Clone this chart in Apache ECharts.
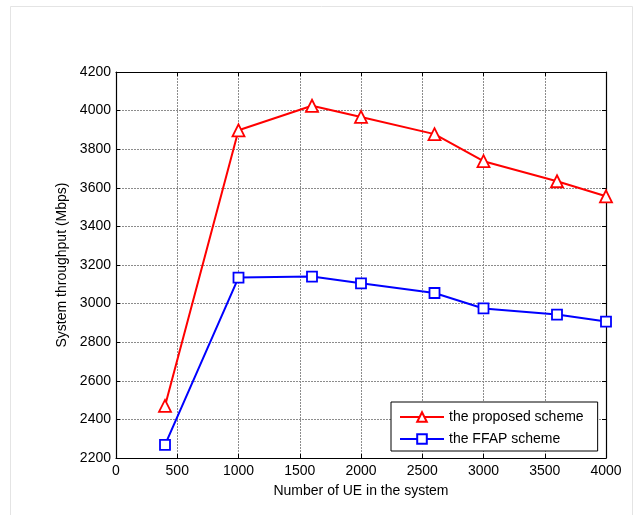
<!DOCTYPE html>
<html><head><meta charset="utf-8">
<script src="https://cdn.jsdelivr.net/npm/echarts@6/dist/echarts.min.js"></script>
<style>html,body{margin:0;padding:0;background:#fff}#c{width:639px;height:515px}</style>
</head><body><div id="c"></div>
<script>
const xValues = [400, 1000, 1600, 2000, 2600, 3000, 3600, 4000];
const proposed = [2470, 3898, 4025, 3967, 3878, 3738, 3634, 3556];
const ffap = [2268, 3135, 3140, 3105, 3055, 2975, 2943, 2907];
const seriesNames = ['the proposed scheme', 'the FFAP scheme'];
const xTicks = [0, 500, 1000, 1500, 2000, 2500, 3000, 3500, 4000];
const yTicks = [2200, 2400, 2600, 2800, 3000, 3200, 3400, 3600, 3800, 4000, 4200];

const chart = echarts.init(document.getElementById('c'));
const font = 'Arial, "Liberation Sans", sans-serif';
const fs = 14;
const gridLine = {show: true, lineStyle: {color: '#8c8c8c', type: [2, 1], width: 1}};
const baseX = {
  type: 'value', min: 0, max: 4000, interval: 500,
  axisLine: {show: true, onZero: false, lineStyle: {color: '#000', width: 1.2}},
  axisTick: {show: true, inside: true, length: 4, lineStyle: {color: '#000'}},
};
const baseY = {
  type: 'value', min: 2200, max: 4200, interval: 200,
  axisLine: {show: true, onZero: false, lineStyle: {color: '#000', width: 1.2}},
  axisTick: {show: true, inside: true, length: 4, lineStyle: {color: '#000'}},
};
chart.setOption({
  animation: false,
  backgroundColor: '#fff',
  graphic: [{type: 'rect', shape: {x: 10.5, y: 6.5, width: 622, height: 520}, style: {fill: '#fff', stroke: '#e4e4e4', lineWidth: 1}, z: -10}],
  grid: {left: 116, right: 33, top: 72, bottom: 57},
  xAxis: [
    Object.assign({}, baseX, {
      position: 'bottom',
      name: 'Number of UE in the system', nameLocation: 'middle', nameGap: 26,
      nameTextStyle: {color: '#000', fontSize: fs, fontFamily: font},
      axisLabel: {color: '#000', fontSize: fs, fontFamily: font, margin: 6, formatter: v => String(v)},
      splitLine: gridLine
    }),
    Object.assign({}, baseX, {position: 'top', axisLabel: {show: false}, splitLine: {show: false}})
  ],
  yAxis: [
    Object.assign({}, baseY, {
      position: 'left',
      name: 'System throughput (Mbps)', nameLocation: 'middle', nameGap: 47,
      nameTextStyle: {color: '#000', fontSize: fs, fontFamily: font},
      axisLabel: {color: '#000', fontSize: fs, fontFamily: font, margin: 5, formatter: v => String(v)},
      splitLine: gridLine
    }),
    Object.assign({}, baseY, {position: 'right', axisLabel: {show: false}, splitLine: {show: false}})
  ],
  legend: {
    orient: 'vertical', left: 391, top: 402,
    backgroundColor: '#fff', borderColor: '#000', borderWidth: 1, borderRadius: 0,
    padding: [8, 14, 5, 8], itemGap: 8, itemWidth: 44, itemHeight: 12,
    textStyle: {color: '#000', fontSize: fs, fontFamily: font},
    data: seriesNames
  },
  series: [
    {
      name: seriesNames[0], type: 'line',
      data: xValues.map((x, i) => [x, proposed[i]]),
      symbol: 'triangle', symbolSize: 12, showAllSymbol: true,
      lineStyle: {color: '#ff0000', width: 2},
      itemStyle: {color: '#fff', borderColor: '#ff0000', borderWidth: 1.8}
    },
    {
      name: seriesNames[1], type: 'line',
      data: xValues.map((x, i) => [x, ffap[i]]),
      symbol: 'rect', symbolSize: 10, showAllSymbol: true,
      lineStyle: {color: '#0000ff', width: 2},
      itemStyle: {color: '#fff', borderColor: '#0000ff', borderWidth: 1.8}
    }
  ]
});
</script></body></html>
